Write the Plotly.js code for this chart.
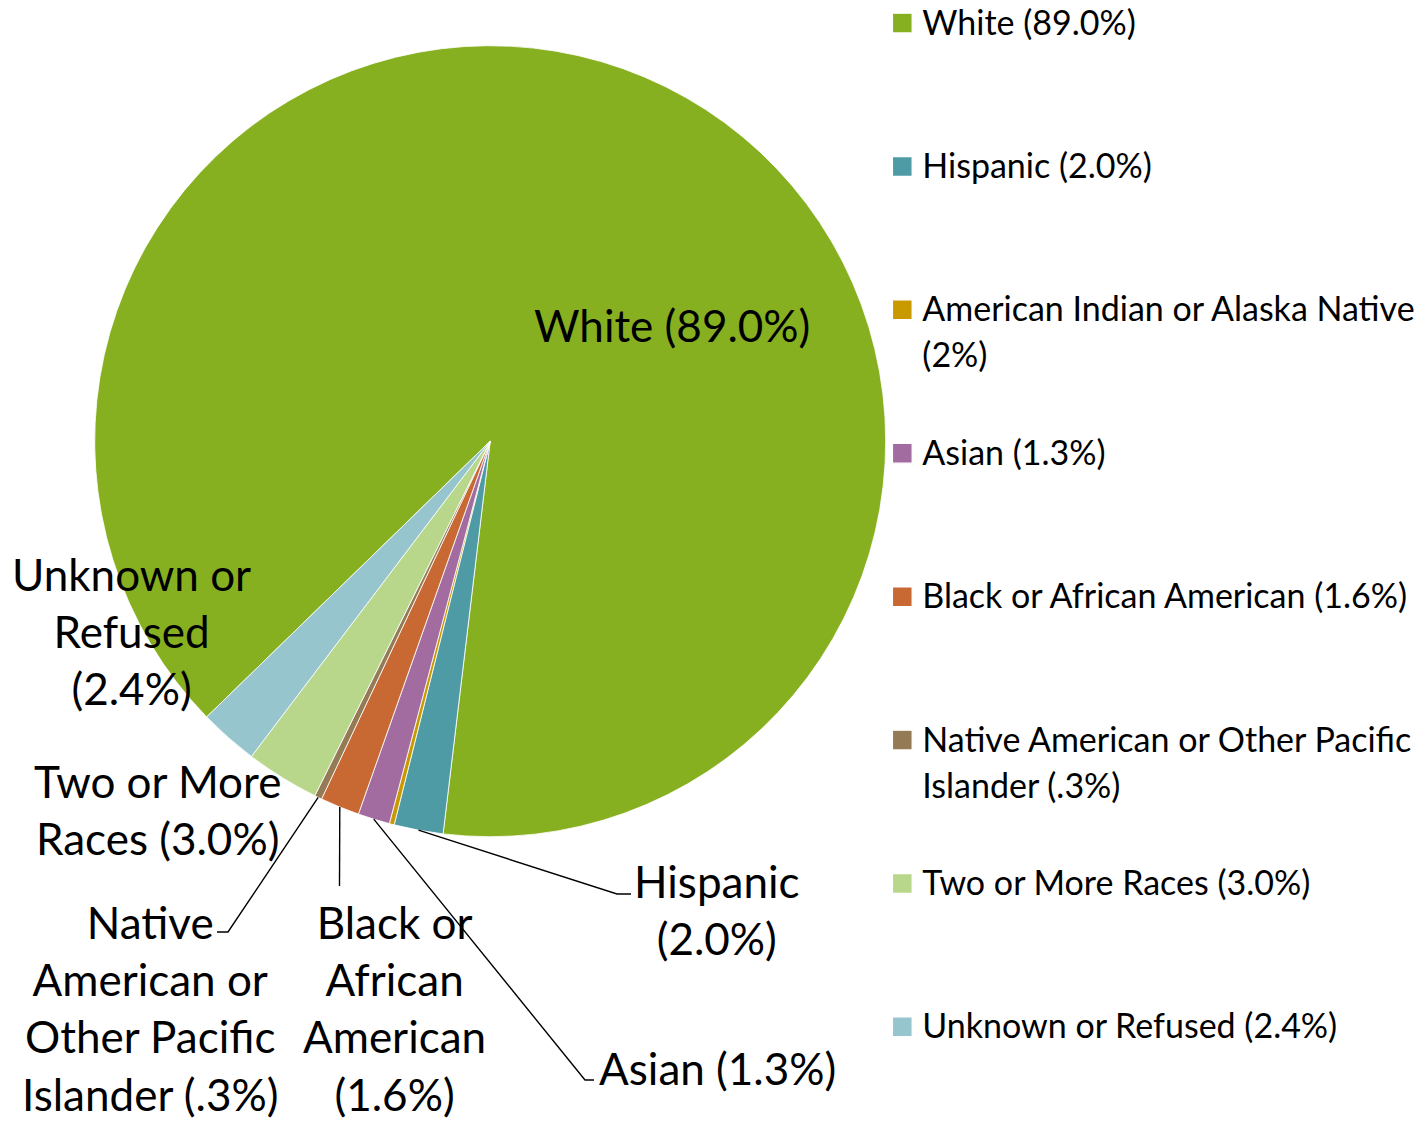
<!DOCTYPE html>
<html>
<head>
<meta charset="utf-8">
<script src="https://cdn.plot.ly/plotly-3.0.1.min.js"></script>
<style>
  html, body { margin: 0; padding: 0; background: #ffffff; }
  #chart { width: 1427px; height: 1121px; }
  #chart .legendpie { transform: translate(20px, -1px) scale(1.65); }
</style>
</head>
<body>
<div id="chart"></div>
<script>
// ---------------- data ----------------
const categories = [
  "White",
  "Hispanic",
  "American Indian or Alaska Native",
  "Asian",
  "Black or African American",
  "Native American or Other Pacific Islander",
  "Two or More Races",
  "Unknown or Refused"
];
const values = [89.0, 2.0, 0.2, 1.3, 1.6, 0.3, 3.0, 2.4];
const percentLabels = ["89.0%", "2.0%", "2%", "1.3%", "1.6%", ".3%", "3.0%", "2.4%"];

// legend text lines (as wrapped in the original)
const legendLines = [
  ["White (89.0%)"],
  ["Hispanic (2.0%)"],
  ["American Indian or Alaska Native", "(2%)"],
  ["Asian (1.3%)"],
  ["Black or African American (1.6%)"],
  ["Native American or Other Pacific", "Islander (.3%)"],
  ["Two or More Races (3.0%)"],
  ["Unknown or Refused (2.4%)"]
];

// slice label lines (null = no label)
const sliceLabelLines = [
  ["White (89.0%)"],
  ["Hispanic", "(2.0%)"],
  null,
  ["Asian (1.3%)"],
  ["Black or", "African", "American", "(1.6%)"],
  ["Native", "American or", "Other Pacific", "Islander (.3%)"],
  ["Two or More", "Races (3.0%)"],
  ["Unknown or", "Refused", "(2.4%)"]
];

// ---------------- styles / layout positions ----------------
const colors = ["#87B020", "#4E9BA6", "#C89A00", "#A36CA0", "#C86934", "#947A55", "#B8D78B", "#96C5CD"];
const W = 1427, H = 1121;
const pieCx = 490.2, pieCy = 441.2, pieR = 395.5;   // px
const rotation = 225.8;

// label centres (px) and leader-line waypoints (px) after the rim point
const labelPos = [[672, 325], [717, 909], null, [717, 1068], [395, 1008], [150, 1008], [157, 809], [131, 631]];
const leaderWays = [null, [[617, 894], [631, 894]], null, [[585, 1080], [594, 1080]], [[339.5, 886]], [[228, 932], [217, 932]], null, null];

const X = px => px / W;
const Y = py => 1 - py / H;

// legend labels: each entry padded to 4 lines (last entry one line) for spacing
const legendFontPx = 34;
const legendLabels = legendLines.map((lines, i) => {
  const parts = lines.map((t, k) => k === 0
    ? `<span style="font-size:${legendFontPx}px">${t}</span>`
    : `<span style="font-size:${legendFontPx}px;baseline-shift:-11px">${t}</span>`);
  if (i < legendLines.length - 1) { while (parts.length < 4) parts.push('\u00a0'); }
  return parts.join('<br>');
});

// slice mid angles (deg, clockwise from 12 o'clock) from the data
const total = values.reduce((a, b) => a + b, 0);
let acc = rotation;
const midAngles = values.map(v => { const a0 = acc; acc += v / total * 360; return (a0 + acc) / 2; });
const rimPoint = a => { const t = a * Math.PI / 180; return [pieCx + pieR * Math.sin(t), pieCy - pieR * Math.cos(t)]; };

const annotations = [];
const shapes = [];
sliceLabelLines.forEach((lines, i) => {
  if (!lines) return;
  annotations.push({
    xref: 'paper', yref: 'paper',
    x: X(labelPos[i][0]), y: Y(labelPos[i][1]),
    xanchor: 'center', yanchor: 'middle', align: 'center',
    showarrow: false,
    text: lines.join('<br>'),
    font: { family: 'Lato, "Open Sans", sans-serif', size: 44, color: '#000000' }
  });
  if (leaderWays[i]) {
    const p0 = rimPoint(midAngles[i]);
    const pts = [p0].concat(leaderWays[i]);
    const path = pts.map((p, k) => (k === 0 ? 'M' : 'L') + X(p[0]) + ',' + Y(p[1])).join(' ');
    shapes.push({ type: 'path', xref: 'paper', yref: 'paper', path: path, line: { color: '#000000', width: 1.4 } });
  }
});

const trace = {
  type: 'pie',
  labels: legendLabels,
  values: values,
  text: categories.map((c, i) => c + ' (' + percentLabels[i] + ')'),
  sort: false,
  direction: 'clockwise',
  rotation: rotation,
  textinfo: 'none',
  hoverinfo: 'text',
  marker: { colors: colors, line: { color: '#ffffff', width: 0.8 } },
  domain: { x: [X(pieCx - pieR), X(pieCx + pieR)], y: [Y(pieCy + pieR), Y(pieCy - pieR)] }
};

const layout = {
  width: W, height: H,
  margin: { l: 0, r: 0, t: 0, b: 0, autoexpand: false },
  paper_bgcolor: '#ffffff',
  plot_bgcolor: '#ffffff',
  showlegend: true,
  legend: {
    x: X(882.3), xanchor: 'left',
    y: 1, yanchor: 'top',
    valign: 'top',
    bgcolor: 'rgba(0,0,0,0)',
    borderwidth: 0,
    font: { family: 'Lato, "Open Sans", sans-serif', size: 27, color: '#000000' }
  },
  annotations: annotations,
  shapes: shapes
};

Plotly.newPlot('chart', [trace], layout, { displayModeBar: false, responsive: false });
</script>
</body>
</html>
